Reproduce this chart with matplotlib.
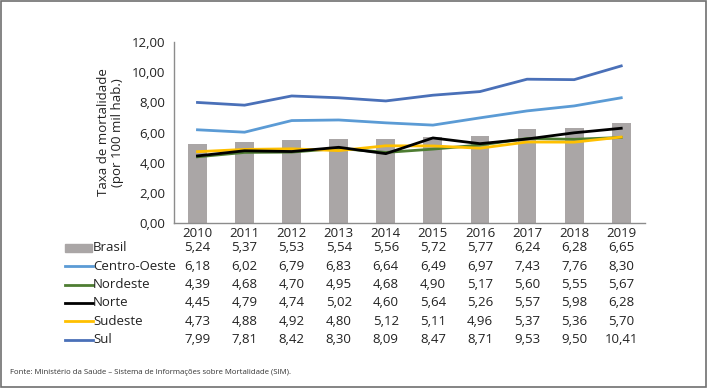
import matplotlib.pyplot as plt
import matplotlib.transforms as mtrans
from matplotlib.lines import Line2D
from matplotlib.patches import Rectangle
import numpy as np

plt.rcParams['font.family'] = ['Open Sans', 'DejaVu Sans']

# ------------------------------------------------------------
# data read off the reference table
# ------------------------------------------------------------
years = ['2010', '2011', '2012', '2013', '2014', '2015', '2016', '2017', '2018', '2019']
brasil = [5.24, 5.37, 5.53, 5.54, 5.56, 5.72, 5.77, 6.24, 6.28, 6.65]
centro_oeste = [6.18, 6.02, 6.79, 6.83, 6.64, 6.49, 6.97, 7.43, 7.76, 8.30]
nordeste = [4.39, 4.68, 4.70, 4.95, 4.68, 4.90, 5.17, 5.60, 5.55, 5.67]
norte = [4.45, 4.79, 4.74, 5.02, 4.60, 5.64, 5.26, 5.57, 5.98, 6.28]
sudeste = [4.73, 4.88, 4.92, 4.80, 5.12, 5.11, 4.96, 5.37, 5.36, 5.70]
sul = [7.99, 7.81, 8.42, 8.30, 8.09, 8.47, 8.71, 9.53, 9.50, 10.41]

y_ticks = [0, 2, 4, 6, 8, 10, 12]

# line series in drawing order: (label, values, colour)
series = [
    ('Centro-Oeste', centro_oeste, '#5b9bd5'),
    ('Nordeste', nordeste, '#4e7d32'),
    ('Sudeste', sudeste, '#ffc000'),
    ('Norte', norte, '#000000'),
    ('Sul', sul, '#4a70b8'),
]
table_order = ['Brasil', 'Centro-Oeste', 'Nordeste', 'Norte', 'Sudeste', 'Sul']
bar_color = '#aaa6a6'

fig = plt.figure(figsize=(7.07, 3.88), dpi=100)
ax = fig.add_axes([0.246, 0.425, 0.666, 0.467])

x = np.arange(len(years))
ax.bar(x, brasil, width=0.4, color=bar_color, zorder=1)
for name, vals, col in series:
    ax.plot(x, vals, color=col, linewidth=2, zorder=2)

ax.set_xlim(-0.5, len(years) - 0.5)
ax.set_ylim(0, 12)
ax.set_yticks(y_ticks)
ax.set_yticklabels([f'{v:.2f}'.replace('.', ',') for v in y_ticks], fontsize=9.5)
ax.set_xticks(x)
ax.set_xticklabels(years, fontsize=9.5)
ax.tick_params(axis='both', length=0, pad=6, colors='#222222')
ax.tick_params(axis='x', pad=3)
for s in ['top', 'right']:
    ax.spines[s].set_visible(False)
for s in ['left', 'bottom']:
    ax.spines[s].set_color('#8c8c8c')
    ax.spines[s].set_linewidth(1)

ax.set_ylabel('Taxa de mortalidade\n(por 100 mil hab.)', fontsize=9.5,
              color='#222222', linespacing=1.1)
ax.yaxis.set_label_coords(-0.105, 0.5)

# ------------------------------------------------------------
# data table under the chart
# ------------------------------------------------------------
colors = {'Brasil': bar_color}
values = {'Brasil': brasil}
for name, vals, col in series:
    colors[name] = col
    values[name] = vals

trans = mtrans.blended_transform_factory(ax.transData, fig.transFigure)
row_y0 = 1 - 248 / 388
row_step = 18.3 / 388
for i, name in enumerate(table_order):
    yy = row_y0 - i * row_step
    for xi, v in zip(x, values[name]):
        ax.text(xi, yy, f'{v:.2f}'.replace('.', ','), transform=trans,
                ha='center', va='center', fontsize=9.5, color='#222222',
                clip_on=False)
    fig.text(93 / 707, yy, name, ha='left', va='center', fontsize=9.5,
             color='#222222')
    if name == 'Brasil':
        fig.add_artist(Rectangle((65 / 707, yy - 4 / 388), 27 / 707, 8 / 388,
                                 transform=fig.transFigure, color=colors[name]))
    else:
        fig.add_artist(Line2D([65 / 707, 93 / 707], [yy, yy],
                              transform=fig.transFigure,
                              color=colors[name], linewidth=2))

fig.text(10 / 707, 1 - 372 / 388,
         'Fonte: Ministério da Saúde \u2013 Sistema de Informações sobre Mortalidade (SIM).',
         fontsize=5.6, color='#333333', ha='left', va='center')

# frame round the figure
fig.add_artist(Rectangle((0.001, 0.002), 0.997, 0.996, transform=fig.transFigure,
                         fill=False, edgecolor='#707070', linewidth=1.2))

fig.savefig('out.png', dpi=100)
